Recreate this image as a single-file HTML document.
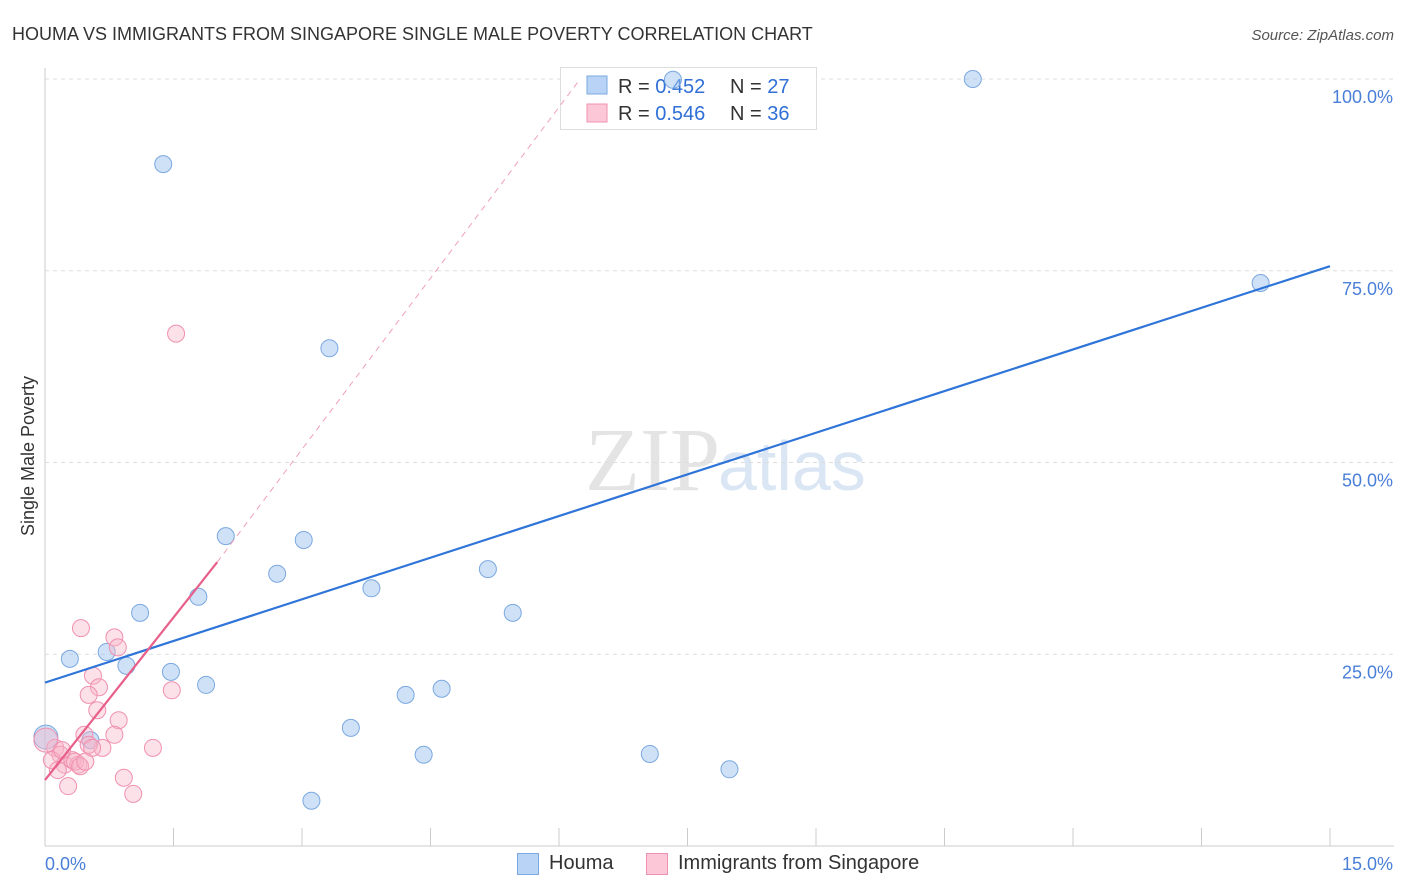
<!DOCTYPE html>
<html><head><meta charset="utf-8"><style>
body{margin:0;background:#fff;font-family:"Liberation Sans",sans-serif;}
#wrap{position:relative;width:1406px;height:892px;overflow:hidden;}
</style></head><body>
<div id="wrap">
<svg id="svg" width="1406" height="892" xmlns="http://www.w3.org/2000/svg">
<text x="12" y="40" font-size="18" fill="#333">HOUMA VS IMMIGRANTS FROM SINGAPORE SINGLE MALE POVERTY CORRELATION CHART</text>
<text x="1394" y="40" font-size="15" fill="#555" font-style="italic" text-anchor="end">Source: ZipAtlas.com</text>
<text x="720" y="490" font-size="90" fill="#e4e4e4" text-anchor="end" font-family="Liberation Serif,serif">ZIP</text>
<text x="718" y="490" font-size="70" fill="#dbe6f5">atlas</text>
<text transform="translate(34,456) rotate(-90)" font-size="18" fill="#333" text-anchor="middle">Single Male Poverty</text>
<g id="grid"></g>
<g>
<rect x="560.5" y="67.5" width="256" height="62" fill="#fff" stroke="#ddd"/>
<rect x="587" y="76" width="20" height="18" fill="#b8d3f5" stroke="#7aa8e0"/>
<text x="618" y="93" font-size="20" fill="#333">R = <tspan fill="#2f6fd6">0.452</tspan><tspan x="730">N = </tspan><tspan fill="#2f6fd6">27</tspan></text>
<rect x="587" y="104" width="20" height="18" fill="#fcc8d8" stroke="#f090b0"/>
<text x="618" y="120" font-size="20" fill="#333">R = <tspan fill="#2f6fd6">0.546</tspan><tspan x="730">N = </tspan><tspan fill="#2f6fd6">36</tspan></text>
</g>
<g id="marks"></g>
</svg>
<div style="position:absolute;left:517px;top:853px;width:20px;height:20px;background:#b8d3f5;border:1px solid #7aa8e0"></div>
<div style="position:absolute;left:549px;top:852px;font-size:20px;color:#333">Houma</div>
<div style="position:absolute;left:646px;top:853px;width:20px;height:20px;background:#fcc8d8;border:1px solid #f090b0"></div>
<div style="position:absolute;left:678px;top:852px;font-size:20px;color:#333">Immigrants from Singapore</div>
</div>
<script>
const yTicks=[25,50,75,100];
const yTickLabels=["25.0%","50.0%","75.0%","100.0%"];
const xTicks=[0,1.5,3,4.5,6,7.5,9,10.5,12,13.5,15];
const houmaX=[1.38,7.33,10.83,14.19,3.32,2.11,3.02,2.71,3.81,5.17,1.79,5.46,1.11,0.29,0.72,0.95,1.47,1.88,4.21,4.63,3.57,4.42,7.06,7.99,3.11,0.53,0.01];
const houmaY=[88.9,99.9,100,73.4,64.9,40.4,39.9,35.5,33.6,36.1,32.5,30.4,30.4,24.4,25.3,23.5,22.7,21.0,19.7,20.5,15.4,11.9,12.0,10.0,5.9,13.8,14.2];
const singX=[1.53,0.42,0.81,0.85,0.56,0.63,0.51,0.61,0.86,0.46,0.81,0.67,0.51,1.26,1.48,0.92,1.03,0.27,0.12,0.18,0.08,0.23,0.32,0.39,0.15,0.01,0.2,0.35,0.41,0.55,0.47];
const singY=[66.8,28.4,27.2,25.9,22.2,20.7,19.7,17.7,16.4,14.5,14.5,12.8,13.2,12.8,20.3,8.9,6.8,7.8,12.8,11.9,11.2,10.6,11.2,10.6,9.9,13.8,12.5,11.0,10.4,12.8,11.0];
const houmaFit=[21.3,75.6];
const singFit=[8.6,37.0,99.9];
const singFitX=[0,2.01,6.24];
const NS="http://www.w3.org/2000/svg";
const xs=v=>45+v/15*1285, ys=v=>846-v*7.67;
const grid=document.getElementById('grid'), marks=document.getElementById('marks');
function mk(tag,at,parent){const e=document.createElementNS(NS,tag);for(const k in at)e.setAttribute(k,at[k]);parent.appendChild(e);return e;}
let ax=mk('line',{x1:45,y1:68,x2:45,y2:846,stroke:'#ccc'},grid);


let bx=mk('line',{x1:45,y1:846,x2:1394,y2:846,stroke:'#ccc'},grid);


yTicks.forEach((t,i)=>{
 let g=mk('line',{x1:45,y1:ys(t),x2:1394,y2:ys(t),stroke:'#ddd','stroke-dasharray':'4,4'},grid);
 
 
 let l=mk('text',{x:1393,y:ys(t)+24,'font-size':18,fill:'#4a7fd8','text-anchor':'end'},grid);l.textContent=yTickLabels[i];
 
 
});
xTicks.forEach(t=>{
 let g=mk('line',{x1:xs(t),y1:828,x2:xs(t),y2:846,stroke:'#ccc'},grid);
 
 
});
let l0=mk('text',{x:45,y:870,'font-size':18,fill:'#4a7fd8'},grid);l0.textContent="0.0%";


let l1=mk('text',{x:1393,y:870,'font-size':18,fill:'#4a7fd8','text-anchor':'end'},grid);l1.textContent="15.0%";


houmaX.forEach((x,i)=>{
 let c=mk('circle',{cx:xs(x),cy:ys(houmaY[i]),r:i==26?12:8.5,fill:'rgba(160,196,240,0.5)',stroke:'#7aa8e0','stroke-width':1},marks);
 
 
});
singX.forEach((x,i)=>{
 let c=mk('circle',{cx:xs(x),cy:ys(singY[i]),r:i==25?12:8.5,fill:'rgba(248,180,200,0.4)',stroke:'#f090b0','stroke-width':1},marks);
 
 
});
let hl=mk('line',{x1:xs(0),y1:ys(houmaFit[0]),x2:xs(15),y2:ys(houmaFit[1]),stroke:'#2f74d8','stroke-width':2.2},marks);


let sl=mk('line',{x1:xs(singFitX[0]),y1:ys(singFit[0]),x2:xs(singFitX[1]),y2:ys(singFit[1]),stroke:'#e8608a','stroke-width':2.2},marks);


let sd=mk('line',{x1:xs(singFitX[1]),y1:ys(singFit[1]),x2:xs(singFitX[2]),y2:ys(singFit[2]),stroke:'#f0a0b8','stroke-width':1,'stroke-dasharray':'6,5'},marks);


</script>
</body></html>
